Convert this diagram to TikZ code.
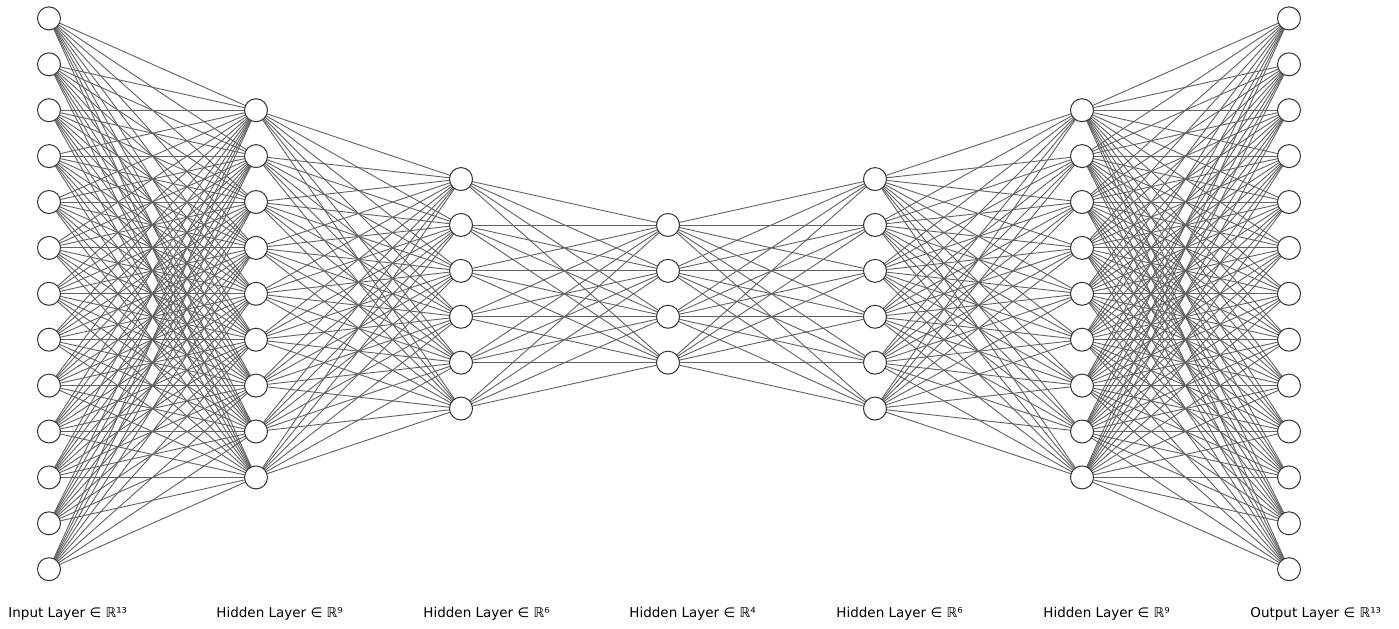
\documentclass[tikz,border=0pt]{standalone}
\usepackage{fontspec}
\setmainfont{DejaVu Sans}
\begin{document}
\begin{tikzpicture}[x=0.5pt,y=-0.5pt,
  neuron/.style={circle,draw=black!80,line width=0.5pt,fill=white,minimum size=11.5pt,inner sep=0pt},
  synapse/.style={draw=black!62,line width=0.45pt},
  layerlabel/.style={anchor=west,font=\fontsize{6.75pt}{7.5pt}\selectfont,inner sep=0pt}]
\useasboundingbox (0,0) rectangle (1399,628);
% layer sizes and horizontal positions
\def\sp{45.9}
\def\cy{293.8}
\foreach \l/\n/\x in {1/13/49,2/9/256,3/6/461,4/4/668,5/6/875,6/9/1082,7/13/1289}{
  \foreach \i in {1,...,\n}{
    \coordinate (c\l-\i) at (\x,{\cy+(\i-(\n+1)/2)*\sp});
  }
}
% connections between consecutive layers
\foreach \a/\na/\b/\nb in {1/13/2/9,2/9/3/6,3/6/4/4,4/4/5/6,5/6/6/9,6/9/7/13}{
  \foreach \i in {1,...,\na}{
    \foreach \j in {1,...,\nb}{
      \draw[synapse] (c\a-\i) -- (c\b-\j);
    }
  }
}
% neurons on top
\foreach \l/\n in {1/13,2/9,3/6,4/4,5/6,6/9,7/13}{
  \foreach \i in {1,...,\n}{
    \node[neuron] (n\l-\i) at (c\l-\i) {};
  }
}
% layer captions
\node[layerlabel] (t1) at (8,614) {Input Layer ∈ ℝ¹³};
\node[layerlabel] (t2) at (216,614) {Hidden Layer ∈ ℝ⁹};
\node[layerlabel] (t3) at (423,614) {Hidden Layer ∈ ℝ⁶};
\node[layerlabel] (t4) at (629,614) {Hidden Layer ∈ ℝ⁴};
\node[layerlabel] (t5) at (836,614) {Hidden Layer ∈ ℝ⁶};
\node[layerlabel] (t6) at (1043,614) {Hidden Layer ∈ ℝ⁹};
\node[layerlabel] (t7) at (1250,614) {Output Layer ∈ ℝ¹³};
\end{tikzpicture}
\end{document}
